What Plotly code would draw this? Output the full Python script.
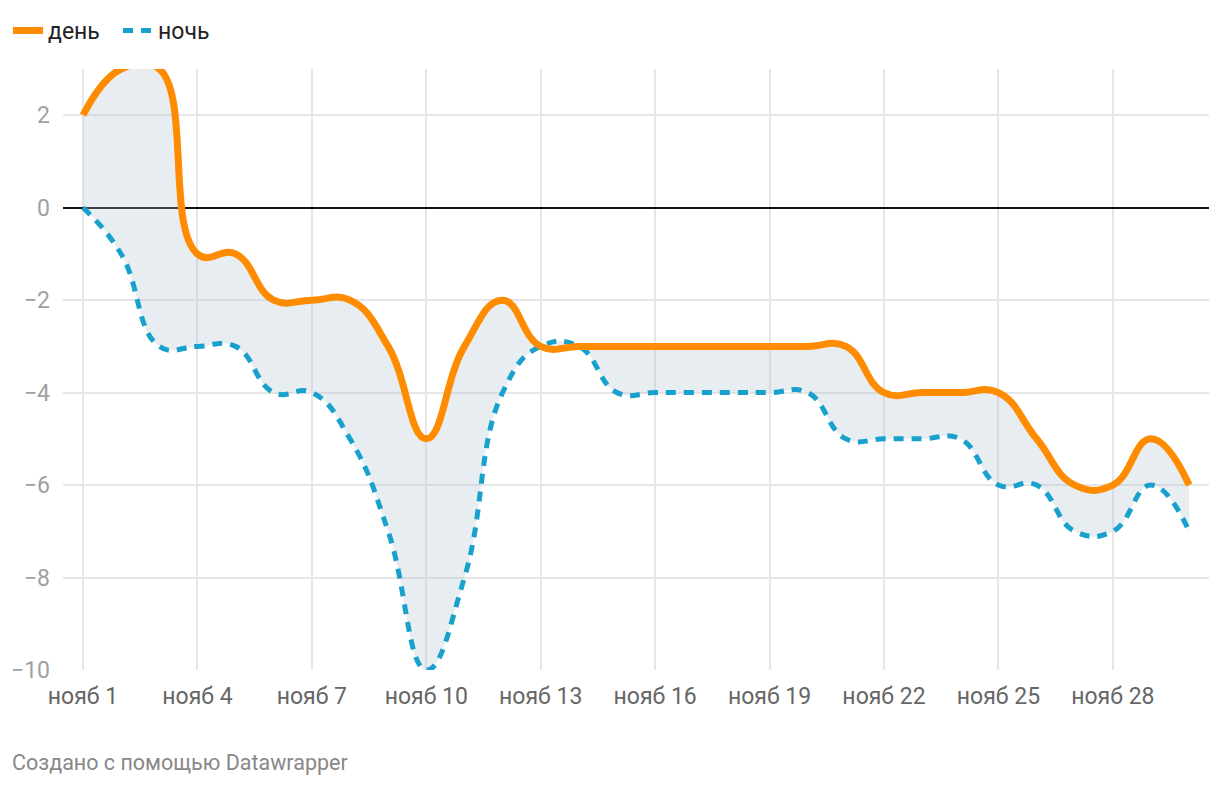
import plotly.graph_objects as go

days = [1, 2, 3, 4, 5, 6, 7, 8, 9, 10, 11, 12, 13, 14, 15,
        16, 17, 18, 19, 20, 21, 22, 23, 24, 25, 26, 27, 28, 29, 30]
day_temp = [2, 3, 3, -1, -1, -2, -2, -2, -3, -5, -3, -2, -3, -3, -3,
            -3, -3, -3, -3, -3, -3, -4, -4, -4, -4, -5, -6, -6, -5, -6]
night_temp = [0, -1, -3, -3, -3, -4, -4, -5, -7, -10, -8, -4, -3, -3, -4,
              -4, -4, -4, -4, -4, -5, -5, -5, -5, -6, -6, -7, -7, -6, -7]
tick_days = [1, 4, 7, 10, 13, 16, 19, 22, 25, 28]
tick_labels = ["нояб 1", "нояб 4", "нояб 7", "нояб 10", "нояб 13",
               "нояб 16", "нояб 19", "нояб 22", "нояб 25", "нояб 28"]
y_ticks = [-10, -8, -6, -4, -2, 0, 2]

ORANGE = "#ff8c00"
BLUE = "#18a1cd"
FONT = "Roboto"
SMOOTH = 1.3

fig = go.Figure()
# area between the two lines
fig.add_trace(go.Scatter(x=days, y=night_temp, mode="lines",
                         line=dict(width=0, shape="spline", smoothing=SMOOTH),
                         showlegend=False, hoverinfo="skip"))
fig.add_trace(go.Scatter(x=days, y=day_temp, mode="lines", fill="tonexty",
                         fillcolor="rgba(173,191,205,0.28)",
                         line=dict(width=0, shape="spline", smoothing=SMOOTH),
                         showlegend=False, hoverinfo="skip"))
# lines
fig.add_trace(go.Scatter(x=days, y=night_temp, mode="lines", name="ночь",
                         legend="legend2",
                         line=dict(color=BLUE, width=5, dash="10px,8px",
                                   shape="spline", smoothing=SMOOTH),
                         cliponaxis=False))
fig.add_trace(go.Scatter(x=days, y=day_temp, mode="lines", name="день",
                         legend="legend",
                         line=dict(color=ORANGE, width=7,
                                   shape="spline", smoothing=SMOOTH),
                         cliponaxis=False))

legend_common = dict(orientation="h", xref="container", yref="container",
                     xanchor="left", yanchor="top",
                     font=dict(family=FONT, size=23, color="#222222"),
                     itemwidth=30, bgcolor="rgba(0,0,0,0)")

fig.update_layout(
    width=1220, height=786,
    margin=dict(l=63, r=11, t=69, b=116),
    paper_bgcolor="white", plot_bgcolor="white",
    font=dict(family=FONT, size=23, color="#666666"),
    showlegend=True,
    legend=dict(x=8 / 1220, y=1 - 9 / 786, **legend_common),
    legend2=dict(x=118 / 1220, y=1 - 9 / 786, **legend_common),
    xaxis=dict(range=[0.476, 30.52], tickvals=tick_days, ticktext=tick_labels,
               showgrid=True, gridcolor="#e6e6e6", gridwidth=2,
               zeroline=False, showline=False, ticks="",
               ticklabelstandoff=10,
               tickfont=dict(family=FONT, size=23, color="#666666")),
    yaxis=dict(range=[-10, 3], tickvals=y_ticks,
               showgrid=True, gridcolor="#e6e6e6", gridwidth=2,
               zeroline=True, zerolinecolor="#111111", zerolinewidth=2,
               showline=False, ticks="", ticklabelstandoff=12,
               tickfont=dict(family=FONT, size=23, color="#a0a0a0")),
    annotations=[dict(text="Создано с помощью Datawrapper", xref="paper", yref="paper",
                      x=(10 - 63) / 1146, y=-(762 - 670) / 601,
                      xanchor="left", yanchor="middle", showarrow=False,
                      font=dict(family=FONT, size=21.5, color="#888888"))],
    hovermode=False,
)

fig.write_html("out.html")
